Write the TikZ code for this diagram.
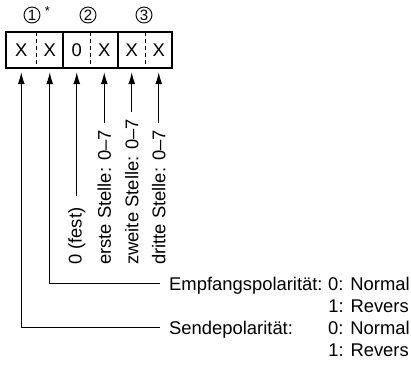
\documentclass[tikz,border=0pt]{standalone}
\usepackage{fontspec}
\setmainfont{Liberation Sans}
\usetikzlibrary{arrows.meta}
\begin{document}
\begin{tikzpicture}[x=1pt,y=-1pt,
  every node/.style={font=\fontsize{18.4}{22}\selectfont, inner sep=0pt},
  cell/.style={minimum width=27pt, minimum height=36pt},
  vtext/.style={rotate=90, anchor=west},
  arr/.style={line width=1pt, -{Latex[length=12pt,width=7pt]}, shorten >=4pt},
  circ/.style={circle, draw, line width=0.9pt, minimum size=16pt, font=\fontsize{15}{15}\selectfont},
  boxline/.style={line width=1.2pt},
  dashline/.style={line width=1pt, dash pattern=on 4pt off 3pt}
]
\useasboundingbox (0,0) rectangle (411,376);
% register box
\draw[boxline] (6,32) rectangle (172,68);
\draw[boxline] (63,32) -- (63,68) (118,32) -- (118,68);
\draw[dashline] (36.5,32) -- (36.5,68) (90.5,32) -- (90.5,68) (145.5,32) -- (145.5,68);
\node[cell] (c1) at (21.25,50) {X};
\node[cell] (c2) at (49.75,50) {X};
\node[cell] (c3) at (76.75,50) {0};
\node[cell] (c4) at (104.25,50) {X};
\node[cell] (c5) at (131.75,50) {X};
\node[cell] (c6) at (158.75,50) {X};
% circled numbers
\node[circ] (n1) at (32,15) {1};
\node[font=\fontsize{13}{13}\selectfont] (ast) at (47.5,11) {*};
\node[circ] (n2) at (88,15) {2};
\node[circ] (n3) at (144,15) {3};
% vertical labels
\node[vtext] (t3) at (76.75,265) {0 (fest)};
\node[vtext] (t4) at (104.25,265) {erste Stelle: 0–7};
\node[vtext] (t5) at (131.75,265) {zweite Stelle: 0–7};
\node[vtext] (t6) at (158.75,265) {dritte Stelle: 0–7};
\draw[arr, shorten <=11pt] (t3.east) -- (c3.south);
\draw[arr, shorten <=7pt] (t4.east) -- (c4.south);
\draw[arr, shorten <=7pt] (t5.east) -- (c5.south);
\draw[arr, shorten <=7pt] (t6.east) -- (c6.south);
% polarity labels
\node[anchor=base west] (emp) at (169,290) {Empfangspolarität:};
\node[anchor=base west] (en) at (328,290) {0: Normal};
\node[anchor=base east] (er) at (409,312) {1: Revers};
\node[anchor=base west] (sen) at (169,334) {Sendepolarität:};
\node[anchor=base west] (sn) at (328,334) {0: Normal};
\node[anchor=base east] (sr) at (409,356) {1: Revers};
\coordinate (e) at (160,283.5);
\coordinate (s) at (160,327.5);
\draw[arr] (e) -| (c2.south);
\draw[arr] (s) -| (c1.south);
\end{tikzpicture}
\end{document}
